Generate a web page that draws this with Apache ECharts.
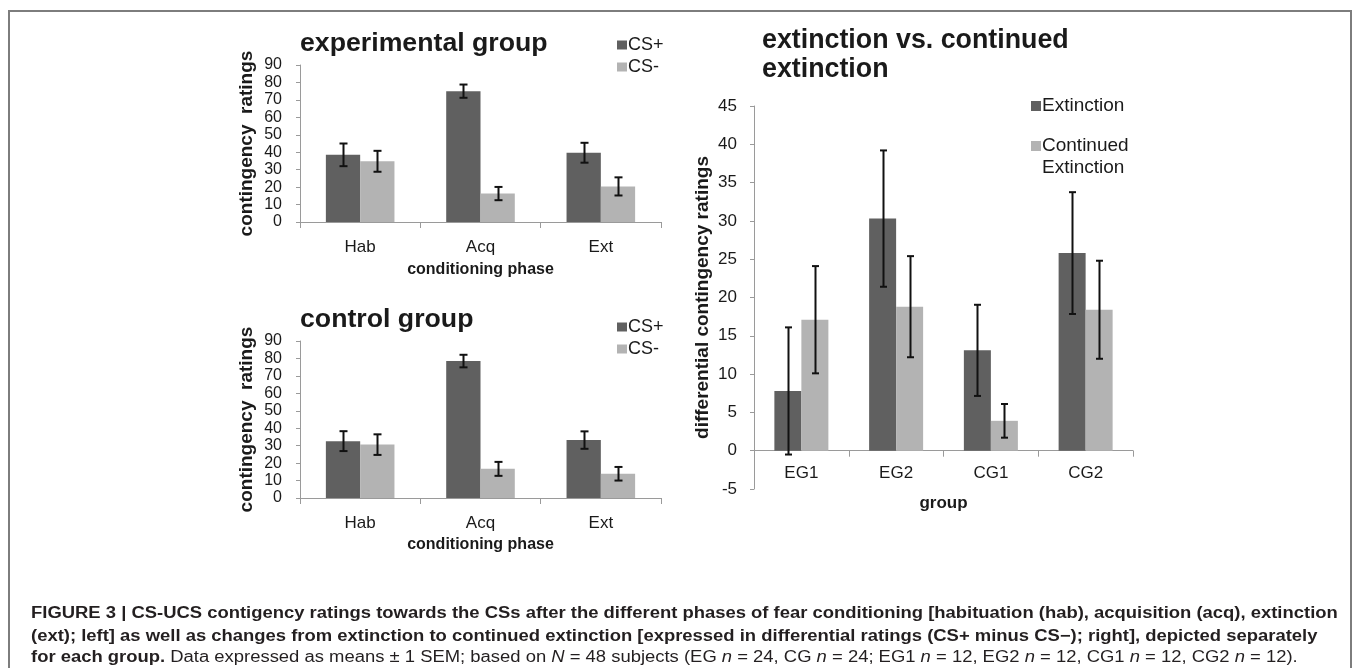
<!DOCTYPE html>
<html>
<head>
<meta charset="utf-8">
<script src="https://cdn.jsdelivr.net/npm/echarts@6/dist/echarts.min.js"></script>
<style>
html,body{margin:0;padding:0;background:#fff;}
#chart{width:1357px;height:668px;}
</style>
</head>
<body>
<div id="chart"></div>
<script>
// ---- data ----
const phases = ['Hab', 'Acq', 'Ext'];
const expCSplus = [38.5, 75, 39.7];
const expCSplusErr = [6.5, 3.8, 5.7];
const expCSminus = [34.8, 16.3, 20.4];
const expCSminusErr = [6, 3.8, 5.2];
const ctlCSplus = [32.6, 78.5, 33.2];
const ctlCSplusErr = [5.7, 3.6, 5];
const ctlCSminus = [30.6, 16.7, 13.9];
const ctlCSminusErr = [5.9, 4, 3.9];
const groups = ['EG1', 'EG2', 'CG1', 'CG2'];
const extinction = [7.8, 30.3, 13.1, 25.8];
const extinctionErr = [8.3, 8.9, 5.95, 7.95];
const continued = [17.1, 18.8, 3.9, 18.4];
const continuedErr = [7, 6.6, 2.2, 6.4];
const leftTicks = {min: 0, max: 90, interval: 10};
const rightTicks = {min: -5, max: 45, interval: 5};

// ---- styling ----
const DARK = '#606060';
const LIGHT = '#b3b3b3';
const AXIS = '#9a9a9a';
const TXT = '#1a1a1a';
const FONT = 'Liberation Sans, Arial, sans-serif';
const GAP = 0.43;
const RIGHT_GRID_H = 383;

function errData(vals, errs) {
  return vals.map((v, i) => [i, v, errs[i]]);
}
function errSeries(name, vals, errs, idx, sign, cap) {
  return {
    type: 'custom', name: name + ' err', xAxisIndex: idx, yAxisIndex: idx, z: 10,
    silent: true, legendHoverLink: false,
    encode: {x: 0, y: 1},
    data: errData(vals, errs),
    renderItem: function (params, api) {
      const x = api.value(0), m = api.value(1), e = api.value(2);
      const top = api.coord([x, m + e]);
      const bot = api.coord([x, m - e]);
      const band = api.size([1, 0])[0];
      const bw = band * (1 - GAP) / 2;
      const cx = Math.round(top[0] + sign * bw / 2) + 0.5;
      const st = {stroke: '#111', lineWidth: 2};
      return {
        type: 'group',
        children: [
          {type: 'line', shape: {x1: cx, y1: top[1], x2: cx, y2: bot[1]}, style: st},
          {type: 'line', shape: {x1: cx - cap, y1: top[1], x2: cx + cap, y2: top[1]}, style: st},
          {type: 'line', shape: {x1: cx - cap, y1: bot[1], x2: cx + cap, y2: bot[1]}, style: st}
        ]
      };
    }
  };
}
function barSeries(name, vals, idx, color) {
  return {
    type: 'bar', name: name, xAxisIndex: idx, yAxisIndex: idx,
    data: vals, barGap: '0%', barCategoryGap: (GAP * 100) + '%',
    itemStyle: {color: color}, silent: true
  };
}
function catAxis(idx, cats, nameText, nameGap, labelSize, labelMargin, offset) {
  return {
    type: 'category', gridIndex: idx, data: cats,
    name: nameText, nameLocation: 'middle', nameGap: nameGap,
    offset: offset || 0,
    nameTextStyle: {fontFamily: FONT, fontWeight: 'bold', fontSize: idx === 2 ? 17 : 16, color: TXT},
    axisLine: {onZero: false, lineStyle: {color: AXIS, width: 1}},
    axisTick: {show: true, length: 6, lineStyle: {color: AXIS}},
    axisLabel: {fontFamily: FONT, fontSize: labelSize, color: TXT, margin: labelMargin}
  };
}
function valAxis(idx, t, nameText, nameGap, labelSize, labelMargin, nameSize) {
  return {
    type: 'value', gridIndex: idx, min: t.min, max: t.max, interval: t.interval,
    name: nameText, nameLocation: 'middle', nameGap: nameGap,
    nameTextStyle: {fontFamily: FONT, fontWeight: 'bold', fontSize: nameSize, color: TXT},
    axisLine: {show: true, lineStyle: {color: AXIS, width: 1}},
    axisTick: {show: true, length: 4, lineStyle: {color: AXIS}},
    splitLine: {show: false},
    axisLabel: {fontFamily: FONT, fontSize: labelSize, color: TXT, margin: labelMargin}
  };
}

const capLine1 = 'FIGURE 3 | CS-UCS contigency ratings towards the CSs after the different phases of fear conditioning [habituation (hab), acquisition (acq), extinction';
const capLine2 = '(ext); left] as well as changes from extinction to continued extinction [expressed in differential ratings (CS+ minus CS\u2212); right], depicted separately';
const capLine3 = '{b|for each group.}{n| Data expressed as means \u00b1 1 SEM; based on }{i|N}{n| = 48 subjects (EG }{i|n}{n| = 24, CG }{i|n}{n| = 24; EG1 }{i|n}{n| = 12, EG2 }{i|n}{n| = 12, CG1 }{i|n}{n| = 12, CG2 }{i|n}{n| = 12).}';
const CAPFONT = 16;
const CAPSCALE = 1.152;
const CAPCOL = '#231f20';

// zero line offset of the right chart's category axis (moves it up from grid bottom to value 0)
const zeroOffset = -RIGHT_GRID_H * (0 - rightTicks.min) / (rightTicks.max - rightTicks.min);

const chart = echarts.init(document.getElementById('chart'), null, {renderer: 'canvas'});
chart.setOption({
  backgroundColor: '#fff',
  animation: false,
  title: [
    {text: 'experimental group', left: 300, top: 30, padding: 0,
     textStyle: {fontFamily: FONT, fontWeight: 'bold', fontSize: 26.7, color: TXT}},
    {text: 'control group', left: 300, top: 306, padding: 0,
     textStyle: {fontFamily: FONT, fontWeight: 'bold', fontSize: 26.7, color: TXT}},
    {text: 'extinction vs. continued\nextinction', left: 762, top: 26, padding: 0,
     textStyle: {fontFamily: FONT, fontWeight: 'bold', fontSize: 26.8, lineHeight: 29, color: TXT}}
  ],
  legend: [
    {data: ['CS+', 'CS-'], orient: 'vertical', left: 617, top: 34, padding: 0, itemGap: 0,
     itemWidth: 10, itemHeight: 9, icon: 'rect', selectedMode: false,
     textStyle: {fontFamily: FONT, fontSize: 18, lineHeight: 22, color: TXT, padding: [0,0,0,-4]}},
    {data: ['CS+', 'CS-'], orient: 'vertical', left: 617, top: 316, padding: 0, itemGap: 0,
     itemWidth: 10, itemHeight: 9, icon: 'rect', selectedMode: false,
     textStyle: {fontFamily: FONT, fontSize: 18, lineHeight: 22, color: TXT, padding: [0,0,0,-4]}},
    {data: ['Extinction'], orient: 'vertical', left: 1031, top: 95, padding: 0,
     itemWidth: 10, itemHeight: 10, icon: 'rect', selectedMode: false,
     textStyle: {fontFamily: FONT, fontSize: 19, lineHeight: 22, color: TXT, padding: [0,0,0,-4]}},
    {data: ['Continued\nExtinction'], orient: 'vertical', left: 1031, top: 135, padding: 0,
     itemWidth: 10, itemHeight: 44, selectedMode: false,
     icon: 'path://M0,0M0,6h10v10h-10zM10,44',
     textStyle: {fontFamily: FONT, fontSize: 19, lineHeight: 22, color: TXT, padding: [0,0,0,-4]}}
  ],
  grid: [
    {left: 300, top: 65, width: 361, height: 157},
    {left: 300, top: 341, width: 361, height: 157},
    {left: 754, top: 106, width: 379, height: RIGHT_GRID_H}
  ],
  xAxis: [
    catAxis(0, phases, 'conditioning phase', 40, 17, 17),
    catAxis(1, phases, 'conditioning phase', 39, 17, 17),
    catAxis(2, groups, 'group', 44, 17, 14, zeroOffset)
  ],
  yAxis: [
    valAxis(0, leftTicks, 'contingency  ratings', 44, 16, 18, 19),
    valAxis(1, leftTicks, 'contingency  ratings', 44, 16, 18, 19),
    valAxis(2, rightTicks, 'differential contingency ratings', 42, 17, 17, 19)
  ],
  series: [
    barSeries('CS+', expCSplus, 0, DARK),
    barSeries('CS-', expCSminus, 0, LIGHT),
    barSeries('CS+', ctlCSplus, 1, DARK),
    barSeries('CS-', ctlCSminus, 1, LIGHT),
    barSeries('Extinction', extinction, 2, DARK),
    barSeries('Continued\nExtinction', continued, 2, LIGHT),
    errSeries('expP', expCSplus, expCSplusErr, 0, -1, 4),
    errSeries('expM', expCSminus, expCSminusErr, 0, 1, 4),
    errSeries('ctlP', ctlCSplus, ctlCSplusErr, 1, -1, 4),
    errSeries('ctlM', ctlCSminus, ctlCSminusErr, 1, 1, 4),
    errSeries('ext', extinction, extinctionErr, 2, -1, 3.5),
    errSeries('cont', continued, continuedErr, 2, 1, 3.5)
  ],
  graphic: [
    {type: 'rect', silent: true, shape: {x: 9, y: 11, width: 1342, height: 700},
     style: {fill: 'none', stroke: '#7d7d7d', lineWidth: 2}},
    {type: 'text', x: 31, y: 606, scaleX: CAPSCALE, silent: true,
     style: {text: capLine1, fontFamily: FONT, fontWeight: 'bold', fontSize: CAPFONT, fill: CAPCOL, verticalAlign: 'top'}},
    {type: 'text', x: 31, y: 629, scaleX: CAPSCALE, silent: true,
     style: {text: capLine2, fontFamily: FONT, fontWeight: 'bold', fontSize: CAPFONT, fill: CAPCOL, verticalAlign: 'top'}},
    {type: 'text', x: 31, y: 650, scaleX: CAPSCALE, silent: true,
     style: {text: capLine3, fontFamily: FONT, fontSize: CAPFONT, fill: CAPCOL, verticalAlign: 'top',
       rich: {
         b: {fontFamily: FONT, fontWeight: 'bold', fontSize: CAPFONT, fill: CAPCOL},
         n: {fontFamily: FONT, fontSize: CAPFONT, fill: CAPCOL},
         i: {fontFamily: FONT, fontStyle: 'italic', fontSize: CAPFONT, fill: CAPCOL}
       }}}
  ]
});
</script>
</body>
</html>
